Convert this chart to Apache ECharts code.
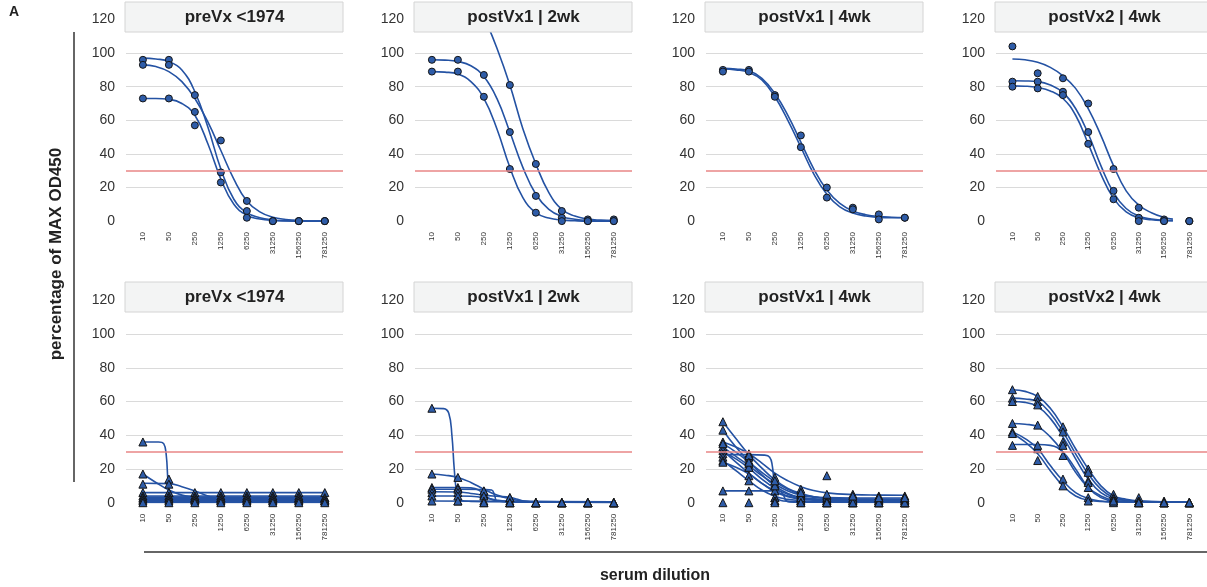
<!DOCTYPE html>
<html>
<head>
<meta charset="utf-8">
<script src="https://cdn.jsdelivr.net/npm/echarts@6/dist/echarts.min.js"></script>
<style>
html,body{margin:0;padding:0;background:#fff;}
#chart{width:1207px;height:587px;}
</style>
</head>
<body>
<div id="chart"></div>
<script>
// ---------------- DATA ----------------
const dilutions = ['10','50','250','1250','6250','31250','156250','781250'];
const panelTitles = ['preVx <1974','postVx1 | 2wk','postVx1 | 4wk','postVx2 | 4wk'];
const yTicks = [0,20,40,60,80,100,120];
const cutoff = 30;
const yAxisTitle = 'percentage of MAX OD450';
const xAxisTitle = 'serum dilution';
const panelLetter = 'A';

// Top row (circles): measured points, one row per serum, one value per dilution
const top1Points = [[96,96,75,29,6,0,0,0],[93,93,65,48,12,0,0,0],[73,73,57,23,2,0,0,0]];
const top2Points = [[96,96,87,53,15,2,1,1],[89,89,74,31,5,0,0,0],[null,null,null,81,34,6,0,0]];
const top3Points = [[90,90,75,51,20,8,4,2],[89,89,74,44,14,7,1,2]];
const top4Points = [[104,88,85,70,31,8,1,0],[83,83,77,53,18,2,0,0],[80,79,75,46,13,0,0,0]];

// Top row fitted curves as [dilution index, value]
const top1Curves = [
  [[0,97],[0.5,96.5],[1,95],[1.5,90],[2,77],[2.5,56],[3,31],[3.5,13],[4,5],[4.5,2],[5,0.7],[5.5,0.2],[6,0],[7,0]],
  [[0,93],[0.5,92],[1,89],[1.5,83],[2,73],[2.5,59],[3,42],[3.5,25],[4,12],[4.5,5.5],[5,2.3],[5.5,1],[6,0.4],[7,0]],
  [[0,73],[0.5,73],[1,72.5],[1.5,70],[2,63],[2.5,46],[3,25],[3.5,10],[4,3.5],[4.5,1.2],[5,0.4],[6,0],[7,0]]
];
const top2Curves = [
  [[0,89],[0.5,88.7],[1,87.5],[1.5,83],[2,73],[2.5,55],[3,32],[3.5,14],[4,5],[4.5,1.8],[5,0.6],[5.5,0.2],[6,0],[7,0]],
  [[0,96],[0.5,95.8],[1,95],[1.5,92.5],[2,86],[2.5,73],[3,53],[3.5,32],[4,16],[4.5,7],[5,2.8],[5.5,1.1],[6,0.4],[7,0.1]],
  [[1.5,140],[2,122],[2.5,103],[3,81],[3.5,55],[4,34],[4.5,17],[5,7],[5.5,3],[6,1.2],[6.5,0.6],[7,0.4]]
];
const top3Curves = [
  [[0,91],[0.5,90.5],[1,89.5],[1.5,85],[2,76],[2.5,63],[3,47],[3.5,31],[4,18.5],[4.5,10.5],[5,6],[5.5,3.8],[6,2.7],[6.5,2.3],[7,2.1]],
  [[0,90.5],[0.5,90],[1,88.5],[1.5,84],[2,74],[2.5,60],[3,44],[3.5,28],[4,16],[4.5,8.5],[5,4.8],[5.5,3],[6,2.2],[6.5,2],[7,2]]
];
const top4Curves = [
  [[0,96.5],[0.5,96],[1,94.5],[1.5,91.5],[2,86.5],[2.5,79],[3,67],[3.5,51],[4,33],[4.5,18],[5,9.5],[5.5,5],[6,2.2],[6.35,1.2]],
  [[0,83.5],[0.5,83.4],[1,83],[1.5,81],[2,76.5],[2.5,67],[3,52],[3.5,33],[4,17],[4.5,7.5],[5,3],[5.5,1.2],[6,0.5],[6.35,0.3]],
  [[0,80.5],[0.5,80.3],[1,79.5],[1.5,77.5],[2,73],[2.5,63],[3,46],[3.5,28],[4,13.5],[4.5,5.5],[5,2],[5.5,0.8],[6,0.3],[6.35,0.2]]
];

// Bottom row (triangles)
const bot1Points = [[36,14,3,3,3,3,3,3],[17,6,2,2,2,2,2,2],[11,11,2,1,1,1,1,1],[6,6,6,6,6,6,6,6],
  [4,4,4,4,4,4,4,1],[3,3,3,3,3,3,3,3],[2,2,2,2,2,2,2,2],[1,1,1,1,1,1,1,1],[0,0,0,0,0,0,0,0]];
const bot2Points = [[56,1,0,0,0,0,0,0],[17,15,7,3,0,0,0,0],[9,9,5,1,0,0,0,0],[8,8,7,0,0,0,0,0],
  [6,6,4,3,0,0,0,0],[4,4,1,0,0,0,0,0],[1,1,0,0,0,0,0,0]];
const bot3Points = [[48,27,13,5,2,1,1,1],[43,25,10,3,1,1,1,0],[36,29,15,8,16,5,4,4],[33,23,11,6,4,3,2,2],
  [31,21,7,4,3,2,2,2],[29,28,3,1,0,0,0,0],[27,16,3,1,1,1,1,1],[25,13,1,2,0,0,0,0],
  [24,21,10,3,1,2,3,3],[7,7,1,0,0,0,0,0],[0,0,0,0,0,0,0,0],[35,24,13,6,5,4,3,3]];
const bot4Points = [[67,63,45,20,5,3,1,0],[62,60,42,18,3,1,0,0],[60,58,36,13,2,1,0,0],[47,46,28,12,1,0,0,0],
  [42,32,14,3,1,0,0,0],[41,25,10,1,0,0,0,0],[34,34,34,9,1,0,0,0]];

const bot1Curves = [
  [[0,36],[0.6,36],[0.8,35],[0.9,28],[0.97,12],[1.05,4.5],[1.3,3],[2,3],[7,3]],
  [[0,17],[0.5,12],[1,7.5],[1.5,4.5],[2,3],[3,2.2],[7,2]],
  [[0,11.5],[1,11.3],[1.5,9.5],[2,7],[2.5,4],[3,2.2],[4,1.5],[7,1.5]],
  [[0,6],[7,6]],
  [[0,4],[7,4]],
  [[0,3.3],[7,3.3]],
  [[0,2.6],[7,2.6]],
  [[0,1.9],[7,1.9]],
  [[0,1.3],[7,1.3]],
  [[0,0.7],[7,0.7]],
  [[0,0.2],[7,0.2]]
];
const bot2Curves = [
  [[0,56],[0.45,55.8],[0.65,53],[0.77,40],[0.86,20],[0.96,6],[1.1,1.5],[1.5,0.8],[3,0.5],[7,0.3]],
  [[0,17],[0.5,16.3],[1,15],[1.5,12],[2,8],[2.5,4.5],[3,2.3],[3.5,1],[4,0.4],[7,0.2]],
  [[0,9],[1,9],[1.5,8.8],[1.8,7.5],[2.1,3.5],[2.4,1.5],[3,0.6],[7,0.3]],
  [[0,8],[1,8],[2,7.8],[2.3,7.5],[2.42,4],[2.5,1],[3,0.5],[7,0.3]],
  [[0,6.5],[1,6.3],[1.5,5.5],[2,4.5],[2.5,3.8],[3,3.2],[3.3,2],[3.6,0.8],[4,0.3],[7,0.2]],
  [[0,4],[1,4],[1.5,3.8],[2,3],[2.5,1.5],[3,0.8],[7,0.3]],
  [[0,1],[7,0.5]]
];
const bot3Curves = [
  [[0,48],[0.5,38],[1,28.5],[1.5,20.5],[2,13.5],[2.5,8.5],[3,5.5],[3.5,3.5],[4,2.4],[5,1.5],[6,1.2],[7,1]],
  [[0,43],[0.5,33],[1,24.5],[1.5,16.5],[2,10],[2.5,5.5],[3,3],[3.5,1.8],[4,1.2],[5,0.8],[7,0.6]],
  [[0,36],[0.5,33],[1,29],[1.5,23.5],[2,17.5],[2.5,13],[3,9.5],[3.5,7.2],[4,5.8],[5,4.8],[6,4.5],[7,4.4]],
  [[0,33],[0.5,27.5],[1,22],[1.5,16],[2,11],[2.5,7],[3,4.5],[3.5,3.2],[4,2.6],[5,2.2],[7,2]],
  [[0,31],[0.5,24],[1,17.5],[1.5,11.5],[2,7],[2.5,4],[3,2.5],[4,1.6],[5,1.4],[7,1.3]],
  [[0,28.5],[1,28.5],[1.6,28.2],[1.8,27],[1.9,22],[1.97,12],[2.05,4],[2.2,1.5],[2.6,0.8],[3,0.5],[7,0.3]],
  [[0,25],[0.5,19],[1,13],[1.5,7.5],[2,3.8],[2.5,2],[3,1.2],[4,0.8],[7,0.6]],
  [[0,24],[0.5,21],[1,17],[1.5,11.5],[2,6.5],[2.5,3.5],[3,2],[4,1.2],[7,1]],
  [[0,7],[1,7],[2,7],[2.2,6.8],[2.33,4.5],[2.42,1.5],[2.55,0.5],[3,0.3],[7,0.2]],
  [[0,35],[0.5,30],[1,24],[1.5,18],[2,12.5],[2.5,8],[3,5],[3.5,3.5],[4,3],[5,2.8],[6,2.8],[7,2.8]],
  [[0,30],[0.5,26],[1,20.5],[1.5,14],[2,8.5],[2.5,5],[3,3],[4,2],[5,1.8],[7,1.8]]
];
const bot4Curves = [
  [[0,67],[0.5,66],[1,63],[1.5,56],[2,45],[2.5,32],[3,20],[3.5,10],[4,4],[4.5,2],[5,1],[6,0.5],[7,0.5]],
  [[0,62],[0.5,61.5],[1,60],[1.5,53],[2,42],[2.5,29],[3,17],[3.5,8],[4,3],[4.5,1.5],[5,0.8],[7,0.5]],
  [[0,60],[0.5,59.5],[1,57],[1.5,50],[2,39],[2.5,26],[3,14],[3.5,6],[4,2.5],[5,0.8],[7,0.5]],
  [[0,47],[0.5,46.5],[1,45],[1.5,39],[2,30],[2.5,18],[3,9],[3.5,4],[4,1.5],[5,0.5],[7,0.5]],
  [[0,42],[0.5,38],[1,32],[1.5,22],[2,13],[2.5,6],[3,2.5],[3.5,1],[4,0.5],[7,0.5]],
  [[0,41],[0.5,36],[1,29],[1.5,19],[2,10],[2.5,4],[3,1.5],[4,0.5],[7,0.5]],
  [[0,34.5],[1,34.5],[1.5,34],[2,30],[2.5,20],[3,9],[3.5,3],[4,1],[5,0.5],[7,0.5]]
];

// ---------------- LAYOUT / STYLE ----------------
const colLeft = [126, 415, 706, 996];
const plotW = 217;
const rowTop = [19.5, 300.3];
const rowH = [201.6, 202.4];
const headerTop = [2, 282];
const headerH = 30;
const FONT = '"Liberation Sans", Arial, Helvetica, sans-serif';
const lineColor = '#2452a3';
const pointColor = '#2e5ca8';

const panels = [
  {points: top1Points, curves: top1Curves, symbol: 'circle', size: 7},
  {points: top2Points, curves: top2Curves, symbol: 'circle', size: 7},
  {points: top3Points, curves: top3Curves, symbol: 'circle', size: 7},
  {points: top4Points, curves: top4Curves, symbol: 'circle', size: 7},
  {points: bot1Points, curves: bot1Curves, symbol: 'triangle', size: 8},
  {points: bot2Points, curves: bot2Curves, symbol: 'triangle', size: 8},
  {points: bot3Points, curves: bot3Curves, symbol: 'triangle', size: 8},
  {points: bot4Points, curves: bot4Curves, symbol: 'triangle', size: 8}
];

const grids = [], xAxes = [], yAxes = [], series = [], graphics = [];

panels.forEach((p, i) => {
  const row = i < 4 ? 0 : 1, col = i % 4;
  grids.push({left: colLeft[col], top: rowTop[row], width: plotW, height: rowH[row], containLabel: false});
  xAxes.push({
    type: 'value', gridIndex: i, min: -0.65, max: 7.7,
    axisLine: {show: false}, axisTick: {show: false}, splitLine: {show: false},
    axisLabel: {
      customValues: dilutions.map((d, k) => k),
      formatter: v => dilutions[Math.round(v)],
      rotate: 90, fontSize: 8, color: '#333', margin: 11, fontFamily: FONT
    }
  });
  yAxes.push({
    type: 'value', gridIndex: i, min: yTicks[0], max: yTicks[yTicks.length - 1], interval: 20,
    axisLine: {show: false}, axisTick: {show: false},
    splitLine: {show: true, showMinLine: false, showMaxLine: false, lineStyle: {color: '#dadada', width: 1}},
    axisLabel: {fontSize: 14, color: '#333', margin: 11, fontFamily: FONT}
  });
  p.curves.forEach((c, k) => {
    const s = {
      type: 'line', xAxisIndex: i, yAxisIndex: i, data: c,
      smooth: 0.45, showSymbol: false, symbol: 'none',
      lineStyle: {color: lineColor, width: 1.6}, silent: true, z: 2, clip: true, animation: false
    };
    if (k === 0) {
      s.markLine = {
        silent: true, symbol: 'none', label: {show: false}, animation: false,
        lineStyle: {color: '#e98686', width: 1.5, type: 'solid'},
        data: [{yAxis: cutoff}]
      };
    }
    series.push(s);
  });
  const pts = [];
  p.points.forEach(r => r.forEach((v, k) => { if (v !== null) pts.push([k, v]); }));
  series.push({
    type: 'scatter', xAxisIndex: i, yAxisIndex: i, data: pts,
    symbol: p.symbol, symbolSize: p.size,
    itemStyle: {color: pointColor, borderColor: '#151515', borderWidth: 1, opacity: 1},
    z: 3, animation: false, silent: true
  });
  // facet header
  graphics.push({
    type: 'rect', z: 100,
    shape: {x: colLeft[col] - 1, y: headerTop[row], width: plotW + 1, height: headerH},
    style: {fill: '#f3f4f4', stroke: '#d4d4d4', lineWidth: 1}
  });
  graphics.push({
    type: 'text', z: 101,
    x: colLeft[col] + plotW / 2, y: headerTop[row] + headerH / 2,
    style: {text: panelTitles[col], font: 'bold 17px ' + FONT, fill: '#222',
      textAlign: 'center', textVerticalAlign: 'middle', align: 'center', verticalAlign: 'middle'}
  });
});

graphics.push({type: 'text', z: 101, x: 9, y: 12,
  style: {text: panelLetter, font: 'bold 14px ' + FONT, fill: '#222',
    textAlign: 'left', textVerticalAlign: 'middle', align: 'left', verticalAlign: 'middle'}});
graphics.push({type: 'text', z: 101, x: 56, y: 254, rotation: Math.PI / 2,
  style: {text: yAxisTitle, font: 'bold 17px ' + FONT, fill: '#222',
    textAlign: 'center', textVerticalAlign: 'middle', align: 'center', verticalAlign: 'middle'}});
graphics.push({type: 'line', z: 101, shape: {x1: 74, y1: 32, x2: 74, y2: 482},
  style: {stroke: '#333', lineWidth: 1.5}});
graphics.push({type: 'line', z: 101, shape: {x1: 144, y1: 552, x2: 1207, y2: 552},
  style: {stroke: '#333', lineWidth: 1.5}});
graphics.push({type: 'text', z: 101, x: 655, y: 576,
  style: {text: xAxisTitle, font: 'bold 16px ' + FONT, fill: '#222',
    textAlign: 'center', textVerticalAlign: 'middle', align: 'center', verticalAlign: 'middle'}});

const chart = echarts.init(document.getElementById('chart'), null, {renderer: 'canvas'});
chart.setOption({
  animation: false,
  backgroundColor: '#ffffff',
  grid: grids, xAxis: xAxes, yAxis: yAxes, series: series,
  graphic: {elements: graphics}
});
</script>
</body>
</html>
